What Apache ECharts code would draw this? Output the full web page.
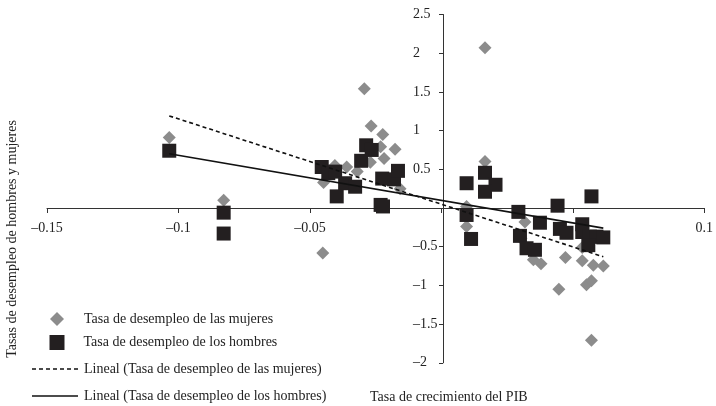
<!DOCTYPE html>
<html>
<head>
<meta charset="utf-8">
<script src="https://cdn.jsdelivr.net/npm/echarts@6/dist/echarts.min.js"></script>
<style>html,body{margin:0;padding:0;background:#fff;}#chart{width:716px;height:406px;}</style>
</head>
<body>
<div id="chart"></div>
<script>
var womenName = 'Tasa de desempleo de las mujeres';
var menName = 'Tasa de desempleo de los hombres';
var trendWomenName = 'Lineal (Tasa de desempleo de las mujeres)';
var trendMenName = 'Lineal (Tasa de desempleo de los hombres)';
var xTitle = 'Tasa de crecimiento del PIB';
var yTitle = 'Tasas de desempleo de hombres y mujeres';

var womenPoints = [
  [-0.1035, 0.91], [-0.0828, 0.10], [-0.0451, -0.58], [-0.0448, 0.33], [-0.0405, 0.55],
  [-0.036, 0.53], [-0.032, 0.47], [-0.027, 0.59], [-0.0293, 1.54], [-0.0267, 1.06],
  [-0.0223, 0.95], [-0.0231, 0.79], [-0.0218, 0.64], [-0.0176, 0.76], [-0.0157, 0.25],
  [0.0166, 2.07], [0.0166, 0.60], [0.0096, 0.02], [0.0096, -0.24], [0.0318, -0.18],
  [0.0303, -0.39], [0.035, -0.67], [0.0379, -0.72], [0.0442, 0.03], [0.0472, -0.64],
  [0.0447, -1.05], [0.0536, -0.68], [0.0536, -0.51], [0.0578, -0.74], [0.0616, -0.75],
  [0.0552, -0.99], [0.0571, -0.94], [0.0571, -1.71]
];
var menPoints = [
  [-0.1035, 0.74], [-0.0828, -0.06], [-0.0828, -0.33], [-0.0455, 0.53], [-0.043, 0.45],
  [-0.0404, 0.47], [-0.0366, 0.32], [-0.0328, 0.275], [-0.0398, 0.15], [-0.0286, 0.81],
  [-0.0265, 0.75], [-0.0305, 0.61], [-0.0225, 0.38], [-0.018, 0.37], [-0.0165, 0.48],
  [-0.0231, 0.04], [-0.0222, 0.02],
  [0.0096, 0.32], [0.0166, 0.455], [0.0206, 0.30], [0.0166, 0.21], [0.0096, -0.09],
  [0.0113, -0.40], [0.0293, -0.05], [0.0299, -0.36], [0.0324, -0.52], [0.0356, -0.54],
  [0.0375, -0.19], [0.0442, 0.03], [0.0451, -0.27], [0.0476, -0.32], [0.0536, -0.21],
  [0.0536, -0.31], [0.0565, -0.37], [0.059, -0.37], [0.0616, -0.38], [0.0559, -0.48],
  [0.0571, 0.15]
];
var trendWomen = [[-0.1035, 1.19], [0.0616, -0.63]];
var trendMen = [[-0.1035, 0.70], [0.0616, -0.26]];

var xMin = -0.15, xMax = 0.1, xStep = 0.05;
var yMin = -2, yMax = 2.5, yStep = 0.5;
var hiddenXLabels = [0, 0.05];

var FONT = '"Liberation Serif", "DejaVu Serif", serif';
function fmt(v) {
  var s = String(+v.toFixed(2));
  return s.replace('-', '\u2013');
}

// grid geometry
var G = {left: 47, right: 9, top: 14.5, bottom: 43.2, w: 716, h: 406};
var plotW = G.w - G.left - G.right, plotH = G.h - G.top - G.bottom;
var zeroXOffset = -plotH * (0 - yMin) / (yMax - yMin);  // move x axis up to y=0
var zeroYOffset = -plotW * (0 - xMin) / (xMax - xMin);  // move y axis right to x=0

// legend icons (shapes only)
var dashPath = 'path://M0 0H4V1.6H0Z M7 0H11V1.6H7Z M14 0H18V1.6H14Z M21 0H25V1.6H21Z M28 0H32V1.6H28Z M35 0H39V1.6H35Z M42 0H46V1.6H42Z';
var solidPath = 'path://M0 0H46V1.6H0Z';
function legendItem(name, icon, left, top, w, h, padLeft) {
  return {
    orient: 'vertical', left: left, top: top, padding: 0,
    itemWidth: w, itemHeight: h, selectedMode: false,
    textStyle: {fontFamily: FONT, fontSize: 14, color: '#222', lineHeight: 16, padding: [0, 0, 0, padLeft]},
    data: [{name: name, icon: icon}]
  };
}

var chart = echarts.init(document.getElementById('chart'), null, {renderer: 'canvas'});
chart.setOption({
  animation: false,
  backgroundColor: '#fff',
  grid: {left: G.left, right: G.right, top: G.top, bottom: G.bottom, containLabel: false},
  xAxis: {
    type: 'value', min: xMin, max: xMax, interval: xStep,
    position: 'bottom', offset: zeroXOffset,
    axisLine: {show: true, onZero: false, lineStyle: {color: '#333', width: 1}},
    axisTick: {show: true, length: 5, lineStyle: {color: '#333'}},
    splitLine: {show: false},
    axisLabel: {
      margin: 13, color: '#222', fontFamily: FONT, fontSize: 14,
      formatter: function (v) {
        for (var i = 0; i < hiddenXLabels.length; i++) {
          if (Math.abs(v - hiddenXLabels[i]) < 1e-9) return '';
        }
        return fmt(v);
      }
    }
  },
  yAxis: {
    type: 'value', min: yMin, max: yMax, interval: yStep,
    position: 'left', offset: zeroYOffset,
    axisLine: {show: true, onZero: false, lineStyle: {color: '#333', width: 1}},
    axisTick: {show: true, length: 4, lineStyle: {color: '#333'}},
    splitLine: {show: false},
    axisLabel: {
      margin: 30, align: 'left', color: '#222', fontFamily: FONT, fontSize: 14,
      formatter: function (v) { return Math.abs(v) < 1e-9 ? '' : fmt(v); }
    }
  },
  legend: [
    legendItem(womenName, 'diamond', 50, 311, 14, 14, 15),
    legendItem(menName, 'rect', 49.5, 334.5, 15, 15, 14),
    legendItem(trendWomenName, dashPath, 32, 361, 46, 1.6, 1),
    legendItem(trendMenName, solidPath, 32, 388, 46, 1.6, 1)
  ],
  title: {
    text: xTitle, left: 370, top: 390, padding: 0,
    textStyle: {fontFamily: FONT, fontSize: 14, fontWeight: 'normal', color: '#222'}
  },
  graphic: [{
    type: 'text', x: 12, y: 239, rotation: Math.PI / 2,
    style: {text: yTitle, fontFamily: FONT, fontSize: 14, fill: '#222', align: 'center', verticalAlign: 'middle'}
  }],
  series: [
    {
      name: womenName, type: 'scatter', data: womenPoints, symbol: 'diamond', symbolSize: 13,
      itemStyle: {color: '#8c8c8c', opacity: 1}, z: 2
    },
    {
      name: menName, type: 'scatter', data: menPoints, symbol: 'rect', symbolSize: 14,
      itemStyle: {color: '#231f20', opacity: 1}, z: 3
    },
    {
      name: trendWomenName, type: 'line', data: trendWomen, symbol: 'none', z: 4,
      lineStyle: {color: '#111', width: 1.6, type: [4, 3]}, itemStyle: {color: '#111'}
    },
    {
      name: trendMenName, type: 'line', data: trendMen, symbol: 'none', z: 4,
      lineStyle: {color: '#111', width: 1.6, type: 'solid'}, itemStyle: {color: '#111'}
    }
  ]
});
</script>
</body>
</html>
